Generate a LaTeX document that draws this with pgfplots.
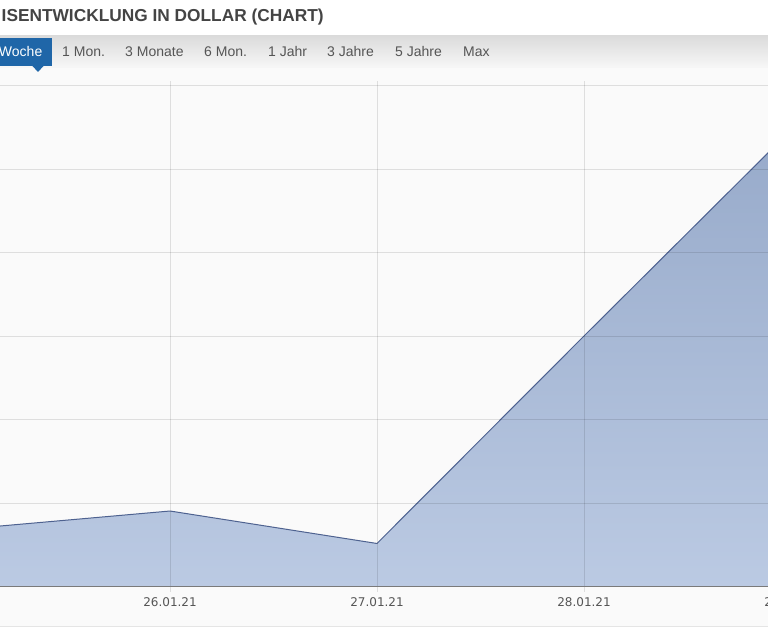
\documentclass[border=0pt]{standalone}
\usepackage{pgfplots}
\pgfplotsset{compat=1.18}
\usepackage{fontspec}
\setmainfont{Liberation Sans}
\newfontfamily\dejavu{DejaVu Sans}
\definecolor{tabblue}{HTML}{1F66A8}
\definecolor{titlegray}{HTML}{444444}
\definecolor{tabtext}{HTML}{555555}
\definecolor{plotbg}{HTML}{FAFAFA}
\definecolor{areatop}{HTML}{97AACA}
\definecolor{areabot}{HTML}{BBCAE3}
\definecolor{linec}{HTML}{4E6290}
\definecolor{axisc}{HTML}{7A7A7A}
\pgfplotstableread{
x y
25 0.691
26 0.910
27 0.521
28 3.006
29 5.473
}\pricedata
\begin{document}
\begin{tikzpicture}[x=1pt,y=1pt]
\useasboundingbox (0,0) rectangle (768,636);
\fill[white] (0,0) rectangle (768,636);
% plot panel background
\fill[plotbg] (0,9) rectangle (768,568);
\draw[black!10, line width=1pt] (0,9) -- (768,9);
% tab bar
\shade[top color=black!14, bottom color=black!3] (0,568) rectangle (768,600);
% title
\node[anchor=base west, inner sep=0, text=titlegray, font=\bfseries\fontsize{17.3}{20}\selectfont] at (1.5,614) {ISENTWICKLUNG IN DOLLAR (CHART)};
% active tab
\fill[tabblue] (0,570) rectangle (52,598);
\fill[tabblue] (32,570.5) -- (44,570.5) -- (38,564) -- cycle;
\node[anchor=base east, inner sep=0, text=white, font=\fontsize{14}{16}\selectfont] at (42.5,579) {Woche};
% other tabs
\begin{scope}[every node/.style={anchor=base west, inner sep=0, text=tabtext, font=\fontsize{14}{16}\selectfont}]
\node at (62,579) {1 Mon.};
\node at (125,579) {3 Monate};
\node at (204,579) {6 Mon.};
\node at (268,579) {1 Jahr};
\node at (327,579) {3 Jahre};
\node at (395,579) {5 Jahre};
\node at (463,579) {Max};
\end{scope}
\begin{axis}[
  at={(0pt,49pt)}, anchor=south west,
  scale only axis, width=832.4pt, height=501pt,
  xmin=25.1787, xmax=29.2, ymin=0, ymax=6,
  axis line style={draw=none},
  axis on top,
  xtick={26,27,28,29},
  xticklabels={26.01.21,27.01.21,28.01.21,29.01.21},
  ytick={0,1,2,3,4,5,6}, yticklabels={},
  grid=major, grid style={black, opacity=0.11, line width=1pt},
  tick align=outside, major tick length=5pt,
  xtick style={black, opacity=0.11, line width=1pt},
  ytick style={draw=none},
  ticklabel style={font=\dejavu\fontsize{12}{14}\selectfont, text=tabtext},
  xticklabel style={yshift=-2pt},
  clip=true,
  after end axis/.code={\draw[axisc, line width=1pt] (rel axis cs:0,0) -- (rel axis cs:1,0);},
]
\addplot[draw=none, top color=areatop, bottom color=areabot] table[x=x,y=y] {\pricedata} \closedcycle;
\addplot[linec, line width=1pt, mark=none] table[x=x,y=y] {\pricedata};
\end{axis}
\end{tikzpicture}
\end{document}
